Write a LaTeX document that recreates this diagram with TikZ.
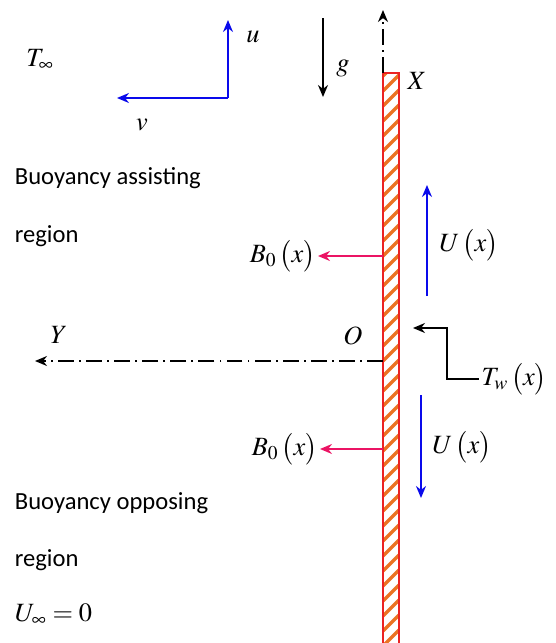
\documentclass[tikz,border=0pt]{standalone}
\usepackage{mathptmx}
\usepackage[no-math]{fontspec}
\newfontfamily\calib{Carlito}
\usetikzlibrary{arrows.meta}
\definecolor{flowblue}{RGB}{10,10,235}
\definecolor{magpink}{RGB}{235,20,100}
\definecolor{hatchorange}{RGB}{235,115,35}
\definecolor{wallred}{RGB}{235,35,35}
\newcommand{\ofx}{\,\bigl(x\bigr)}

\begin{document}
\begin{tikzpicture}[>={Stealth[length=2.4mm,width=2mm]}, line width=1pt,
  lbl/.style={font=\fontsize{15}{17}\selectfont, inner sep=1pt},
  txt/.style={font=\calib\fontsize{14}{16}\selectfont, anchor=west, inner sep=0pt},
  axisline/.style={line width=0.9pt, dash pattern=on 9pt off 3pt on 1pt off 3pt}]
  \useasboundingbox (-7.66,-5.64) rectangle (3.46,7.22);
  % pared rayada
  \begin{scope}
    \clip (0,-5.64) rectangle (0.32,5.76);
    \foreach \k in {-6.0,-5.7,...,6.0}
      \draw[hatchorange, line width=2pt] (0,\k) -- (0.32,\k+0.32);
  \end{scope}
  \draw[wallred, line width=0.8pt] (0,-5.64) -- (0,5.76) -- (0.32,5.76) -- (0.32,-5.64);
  % ejes X, Y
  \coordinate (O) at (0,0);
  \coordinate (wtop) at (0,5.76);
  \coordinate (xend) at (0,7.02);
  \coordinate (yend) at (-6.96,0);
  \draw[->, axisline] (wtop) -- (xend);
  \draw[->, axisline] (O) -- (yend);
  \node[lbl] (Xl) at (0.68,5.6) {$X$};
  \node[lbl] (Yl) at (-6.48,0.52) {$Y$};
  \node[lbl] (Ol) at (-0.6,0.5) {$O$};
  % gravedad
  \coordinate (gtop) at (-1.2,6.86);
  \coordinate (gbot) at (-1.2,5.28);
  \draw[->] (gtop) -- (gbot);
  \node[lbl] (gl) at (-0.8,5.86) {$g$};
  % componentes u, v
  \coordinate (uv) at (-3.1,5.26);
  \coordinate (utip) at (-3.1,6.82);
  \coordinate (vtip) at (-5.32,5.26);
  \draw[flowblue, ->] (uv) -- (utip);
  \draw[flowblue, ->] (uv) -- (vtip);
  \node[lbl] (ul) at (-2.6,6.48) {$u$};
  \node[lbl] (vl) at (-4.82,4.72) {$v$};
  \node[lbl] (Tinf) at (-6.86,6.02) {$T_\infty$};
  % regiones
  \node[txt] (assist) at (-7.38,3.66) {Buoyancy assisting};
  \node[txt] (reg1) at (-7.38,2.5) {region};
  \node[txt] (oppose) at (-7.38,-2.84) {Buoyancy opposing};
  \node[txt] (reg2) at (-7.38,-3.98) {region};
  \node[lbl, anchor=west, inner sep=0pt] (Uinf) at (-7.38,-5.08) {$U_\infty = 0$};
  % campo magnetico
  \coordinate (w1) at (0,2.1);
  \coordinate (w2) at (0,-1.76);
  \node[lbl, anchor=east] (B1) at (-1.3,2.1) {$B_0\ofx$};
  \node[lbl, anchor=east] (B2) at (-1.26,-1.76) {$B_0\ofx$};
  \draw[magpink, ->] (w1) -- (w1 -| B1.east);
  \draw[magpink, ->] (w2) -- (w2 -| B2.east);
  % velocidad exterior
  \coordinate (ua) at (0.88,1.3);
  \coordinate (ub) at (0.88,3.52);
  \coordinate (da) at (0.76,-0.68);
  \coordinate (db) at (0.76,-2.74);
  \draw[flowblue, ->] (ua) -- (ub);
  \draw[flowblue, ->] (da) -- (db);
  \node[lbl] (U1) at (1.72,2.32) {$U\ofx$};
  \node[lbl] (U2) at (1.58,-1.72) {$U\ofx$};
  % temperatura de pared
  \node[lbl, anchor=west] (Tw) at (1.92,-0.36) {$T_w\ofx$};
  \coordinate (twbend) at (1.28,0.66);
  \coordinate (twtip) at (0.6,0.66);
  \draw[->] (Tw.west) -| (twbend) -- (twtip);
\end{tikzpicture}
\end{document}
